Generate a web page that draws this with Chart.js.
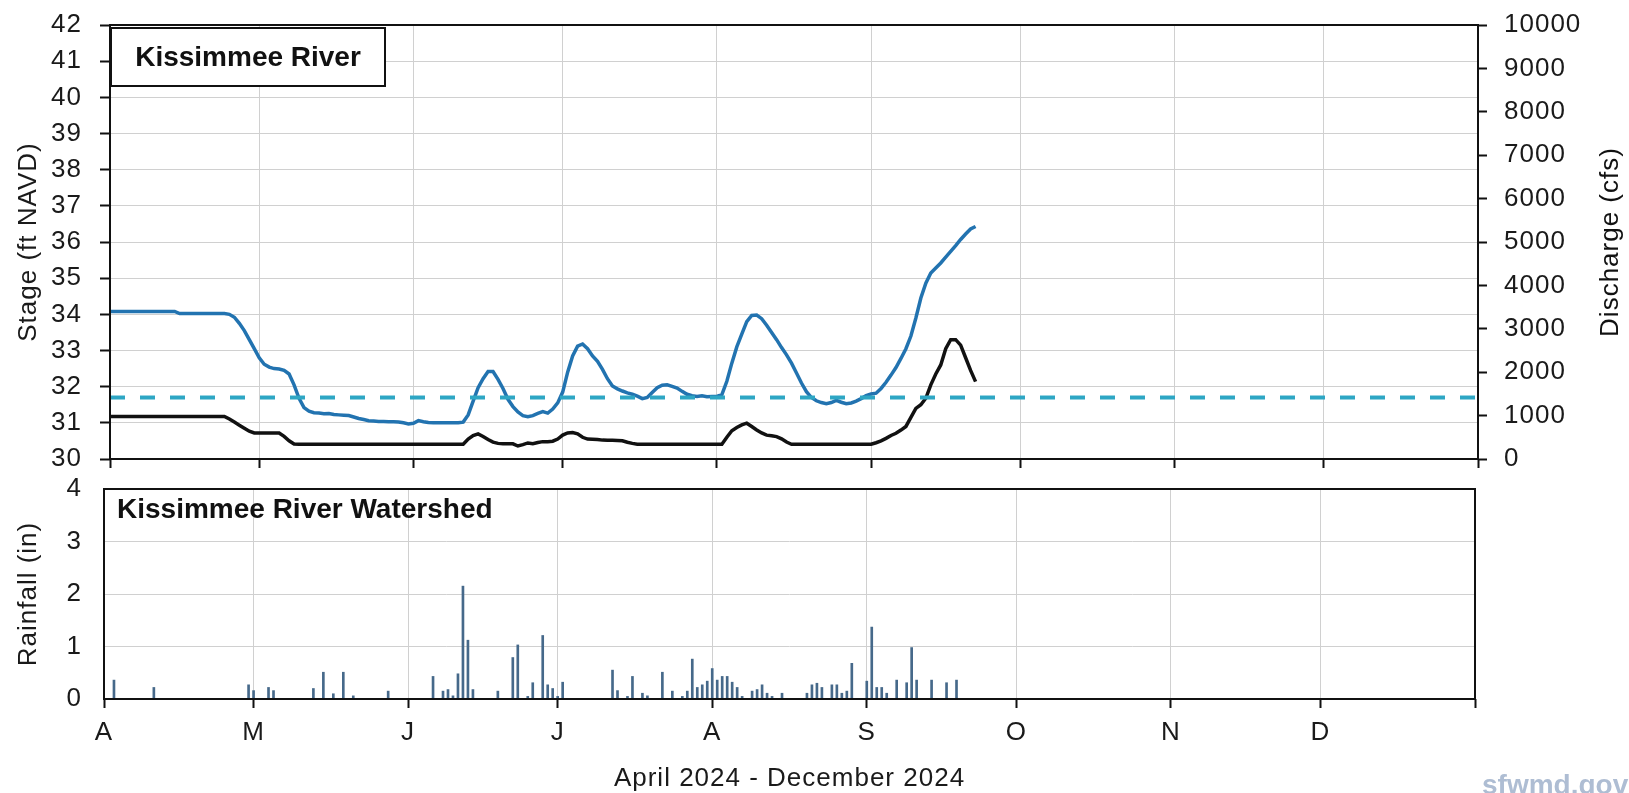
<!DOCTYPE html>
<html>
<head>
<meta charset="utf-8">
<script src="https://cdn.jsdelivr.net/npm/chart.js@4.4.1/dist/chart.umd.min.js"></script>
<style>
  html, body { margin: 0; padding: 0; background: #fff; }
  body { width: 1629px; height: 793px; position: relative; overflow: hidden; }
  canvas { position: absolute; left: 0; }
  #top { top: 0; }
  #bottom { top: 462px; }
  #mark { position: absolute; left: 1482px; top: 771px; font: bold 28px 'Liberation Sans', Arial, sans-serif; line-height: 28px; color: #aebdd3; white-space: nowrap; }
</style>
</head>
<body>
<canvas id="top" width="1629" height="485"></canvas>
<canvas id="bottom" width="1629" height="331"></canvas>
<div id="mark">sfwmd.gov</div>
<script>
// x is days since 1 April 2024
const monthStarts = [0, 30, 61, 91, 122, 153, 183, 214, 244, 275];
const monthLabels = ['A', 'M', 'J', 'J', 'A', 'S', 'O', 'N', 'D', ''];

// daily stage, 1 Apr - 22 Sep (ft NAVD)
const stage = [
  34.08, 34.08, 34.08, 34.08, 34.08, 34.08, 34.08, 34.08, 34.08, 34.08,
  34.08, 34.08, 34.08, 34.08, 34.02, 34.02, 34.02, 34.02, 34.02, 34.02,
  34.02, 34.02, 34.02, 34.02, 34.00, 33.92, 33.75, 33.55, 33.30, 33.05,
  32.80, 32.62, 32.54, 32.50, 32.49, 32.45, 32.35, 32.05, 31.68, 31.42,
  31.32, 31.28, 31.27, 31.25, 31.26, 31.23, 31.22, 31.21, 31.20, 31.16,
  31.12, 31.09, 31.06, 31.05, 31.04, 31.04, 31.03, 31.03, 31.02, 31.00,
  30.97, 30.99, 31.06, 31.03, 31.01, 31.00, 31.00, 31.00, 31.00, 31.00,
  31.00, 31.02, 31.22, 31.60, 31.97, 32.22, 32.42, 32.42, 32.20, 31.95,
  31.65, 31.45, 31.30, 31.20, 31.17, 31.20, 31.26, 31.31, 31.27, 31.38,
  31.55, 31.85, 32.40, 32.85, 33.12, 33.18, 33.05, 32.85, 32.70, 32.48,
  32.22, 32.02, 31.94, 31.88, 31.83, 31.79, 31.74, 31.67, 31.70, 31.84,
  31.97, 32.04, 32.05, 32.01, 31.96, 31.87, 31.79, 31.75, 31.73, 31.75,
  31.72, 31.73, 31.73, 31.78, 32.15, 32.65, 33.10, 33.45, 33.80, 33.97,
  33.98, 33.88, 33.70, 33.50, 33.30, 33.08, 32.88, 32.65, 32.38, 32.10,
  31.86, 31.70, 31.61, 31.56, 31.53, 31.56, 31.62, 31.57, 31.53, 31.55,
  31.60, 31.67, 31.75, 31.80, 31.82, 31.95, 32.12, 32.32, 32.53, 32.78,
  33.05, 33.40, 33.90, 34.45, 34.86, 35.14, 35.28, 35.42, 35.58, 35.74,
  35.90, 36.07, 36.22, 36.36, 36.43
];

// daily discharge, same days (cfs)
const discharge = [
  980, 980, 980, 980, 980, 980, 980, 980, 980, 980,
  980, 980, 980, 980, 980, 980, 980, 980, 980, 980,
  980, 980, 980, 980, 920, 850, 780, 710, 640, 600,
  600, 600, 600, 600, 600, 520, 420, 345, 340, 340,
  340, 340, 340, 340, 340, 340, 340, 340, 340, 340,
  340, 340, 340, 340, 340, 340, 340, 340, 340, 340,
  340, 340, 340, 340, 340, 340, 340, 340, 340, 340,
  340, 340, 460, 540, 580, 520, 450, 390, 360, 350,
  350, 350, 300, 330, 370, 350, 380, 400, 400, 410,
  460, 550, 600, 610, 580, 500, 460, 455, 450, 435,
  430, 430, 425, 420, 385, 360, 340, 340, 340, 340,
  340, 340, 340, 340, 340, 340, 340, 340, 340, 340,
  340, 340, 340, 340, 500, 650, 725, 785, 825, 750,
  670, 600, 550, 535, 515, 465, 390, 340, 340, 340,
  340, 340, 340, 340, 340, 340, 340, 340, 340, 340,
  340, 340, 340, 340, 375, 417, 475, 542, 592, 667,
  750, 958, 1167, 1250, 1400, 1708, 1958, 2167, 2540, 2750,
  2750, 2625, 2333, 2042, 1783
];

const stageRef = 31.7;

// daily rainfall, only the wet days
const rainDays = [2, 10, 29, 30, 33, 34, 42, 44, 46, 48, 50, 57, 66, 68, 69, 70, 71, 72, 73, 74,
  79, 82, 83, 85, 86, 88, 89, 90, 91, 92, 102, 103, 105, 106, 108, 109, 112, 114, 116, 117,
  118, 119, 120, 121, 122, 123, 124, 125, 126, 127, 128, 130, 131, 132, 133, 134, 136, 141, 142, 143,
  144, 146, 147, 148, 149, 150, 153, 154, 155, 156, 157, 159, 161, 162, 163, 166, 169, 171];
const rainInches = [0.36, 0.22, 0.27, 0.16, 0.22, 0.16, 0.20, 0.51, 0.10, 0.51, 0.06, 0.15, 0.43, 0.15, 0.18, 0.06, 0.48, 2.15, 1.12, 0.18,
  0.15, 0.79, 1.03, 0.05, 0.31, 1.21, 0.27, 0.20, 0.05, 0.32, 0.55, 0.16, 0.05, 0.43, 0.11, 0.06, 0.51, 0.15, 0.05, 0.15,
  0.76, 0.22, 0.27, 0.34, 0.58, 0.36, 0.43, 0.43, 0.32, 0.22, 0.05, 0.15, 0.18, 0.27, 0.11, 0.05, 0.11, 0.11, 0.27, 0.30,
  0.22, 0.27, 0.27, 0.11, 0.15, 0.68, 0.34, 1.37, 0.22, 0.22, 0.11, 0.36, 0.31, 0.98, 0.36, 0.36, 0.31, 0.36];

const font = "'Liberation Sans', Arial, sans-serif";
Chart.defaults.font.family = font;
Chart.defaults.font.size = 26;
Chart.defaults.color = '#1a1a1a';
const gridGray = '#d0d0d0';

// black frame round the plot area plus the panel name
const frame = {
  id: 'frame',
  beforeDraw(chart) {
    // the original lettering is a little spaced out
    chart.ctx.letterSpacing = '1px';
  },
  afterDraw(chart, args, opts) {
    const { ctx, chartArea: a } = chart;
    ctx.save();
    ctx.strokeStyle = '#111';
    ctx.lineWidth = 2;
    ctx.strokeRect(a.left, a.top, a.right - a.left, a.bottom - a.top);
    ctx.letterSpacing = '0px';
    ctx.font = 'bold 28px ' + font;
    ctx.fillStyle = '#111';
    ctx.textBaseline = 'middle';
    if (opts.boxed) {
      ctx.fillStyle = '#fff';
      ctx.fillRect(a.left + 1, a.top + 3, 274, 58);
      ctx.strokeRect(a.left + 1, a.top + 3, 274, 58);
      ctx.fillStyle = '#111';
      ctx.textAlign = 'center';
      ctx.fillText(opts.label, a.left + 138, a.top + 33);
    } else if (opts.label) {
      ctx.textAlign = 'left';
      ctx.fillText(opts.label, a.left + 13, a.top + 21);
    }
    if (opts.rightTitle) {
      ctx.letterSpacing = '1px';
      ctx.font = '26px ' + font;
      ctx.translate(1611, (a.top + a.bottom) / 2);
      ctx.rotate(-Math.PI / 2);
      ctx.textAlign = 'center';
      ctx.fillText(opts.rightTitle, 0, 0);
    }
    ctx.restore();
  }
};

// keep the tick label padding from pushing the plot area in
function fixWidth(w) {
  return s => { s.width = w; s.paddingTop = 0; s.paddingBottom = 0; };
}

function monthAxis(showLabels, height) {
  return {
    type: 'linear', min: 0, max: 275, offset: false,
    afterBuildTicks: s => { s.ticks = monthStarts.map(v => ({ value: v })); },
    afterFit: s => { s.height = height; },
    grid: { offset: false, color: gridGray, lineWidth: 1, tickColor: '#111', tickLength: 9, tickWidth: 2 },
    border: { display: false },
    ticks: { display: showLabels, padding: 9, maxRotation: 0, autoSkip: false,
             callback: (v, i) => monthLabels[i] }
  };
}

const days = stage.map((v, i) => i);

new Chart(document.getElementById('top'), {
  type: 'line',
  data: {
    datasets: [
      { data: [{ x: monthStarts[0], y: stageRef }, { x: monthStarts[monthStarts.length - 1], y: stageRef }],
        borderColor: '#2ea6c4', borderWidth: 4, borderDash: [15, 15], yAxisID: 'y', order: 0 },
      { data: days.map((d, i) => ({ x: d, y: discharge[i] })),
        borderColor: '#111', borderWidth: 3.5, yAxisID: 'y1', order: 1 },
      { data: days.map((d, i) => ({ x: d, y: stage[i] })),
        borderColor: '#2273b0', borderWidth: 3.5, yAxisID: 'y', order: 2 }
    ]
  },
  options: {
    responsive: false, animation: false, events: [],
    layout: { padding: { top: 25, left: 0, right: 0, bottom: 0 } },
    elements: { point: { radius: 0 }, line: { tension: 0 } },
    plugins: { legend: { display: false }, tooltip: { enabled: false },
               frame: { label: 'Kissimmee River', boxed: true, rightTitle: 'Discharge (cfs)' } },
    scales: {
      x: monthAxis(false, 26),
      y: {
        position: 'left', min: 30, max: 42,
        ticks: { stepSize: 1, padding: 18 },
        grid: { color: gridGray, tickColor: '#111', tickLength: 10, tickWidth: 2 },
        border: { display: false },
        title: { display: true, text: 'Stage (ft NAVD)', font: { size: 26, lineHeight: 1 }, padding: { top: 16, bottom: 0 } },
        afterFit: fixWidth(110)
      },
      y1: {
        position: 'right', min: 0, max: 10000,
        ticks: { stepSize: 1000, padding: 17, callback: v => String(v) },
        grid: { drawOnChartArea: false, tickColor: '#111', tickLength: 9, tickWidth: 2 },
        border: { display: false },
        afterFit: fixWidth(151)
      }
    }
  },
  plugins: [frame]
});

new Chart(document.getElementById('bottom'), {
  type: 'bar',
  data: {
    datasets: [
      { data: rainDays.map((d, i) => ({ x: d, y: rainInches[i] })),
        backgroundColor: '#46698a', borderWidth: 0, barThickness: 2 }
    ]
  },
  options: {
    responsive: false, animation: false, events: [],
    layout: { padding: { top: 27, left: 0, right: 154, bottom: 0 } },
    plugins: { legend: { display: false }, tooltip: { enabled: false },
               frame: { label: 'Kissimmee River Watershed' } },
    scales: {
      x: Object.assign(monthAxis(true, 94), {
        title: { display: true, text: 'April 2024 - December 2024', font: { size: 26, lineHeight: 1 }, padding: { top: 0, bottom: 1 } }
      }),
      y: {
        min: 0, max: 4,
        ticks: { stepSize: 1, padding: 22 },
        grid: { color: gridGray, drawTicks: false },
        border: { display: false },
        title: { display: true, text: 'Rainfall (in)', font: { size: 26, lineHeight: 1 }, padding: { top: 16, bottom: 0 } },
        afterFit: fixWidth(104)
      }
    }
  },
  plugins: [frame]
});
</script>
</body>
</html>
